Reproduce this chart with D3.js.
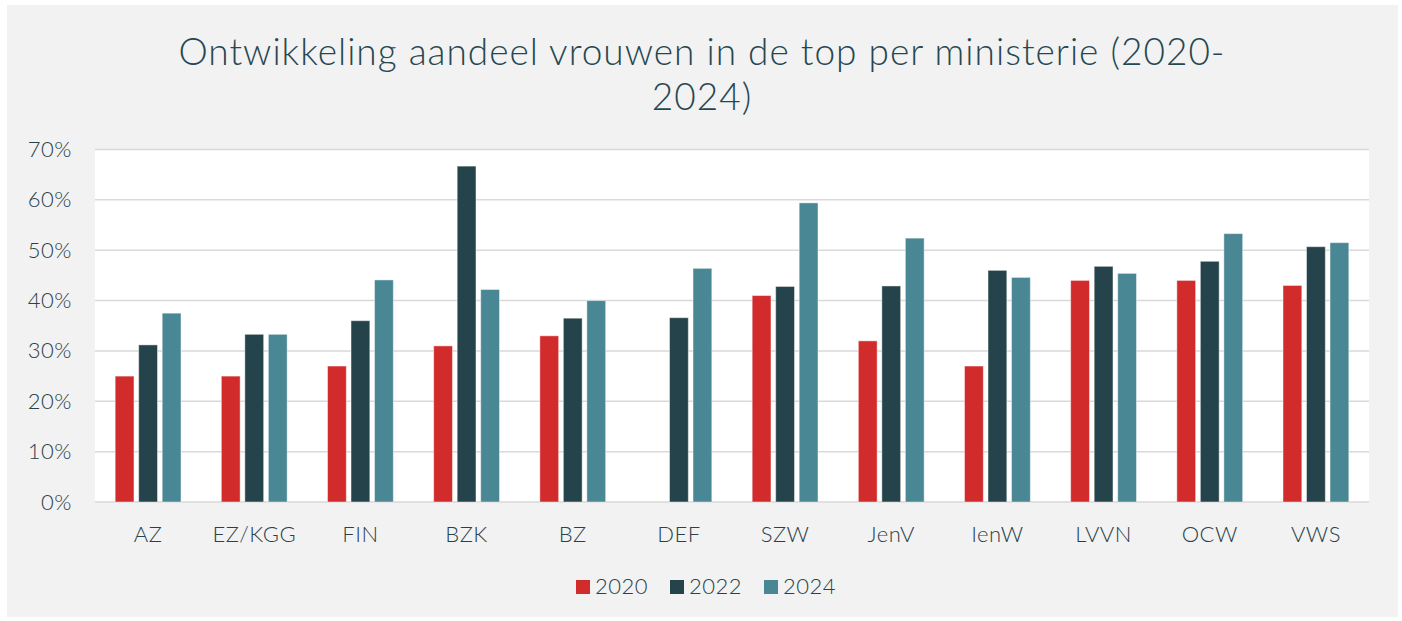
<!DOCTYPE html>
<html>
<head>
<meta charset="utf-8">
<script src="https://cdn.jsdelivr.net/npm/d3@7"></script>
<style>
  body { margin: 0; background: #fff; }
  text { font-family: Lato, "Open Sans", sans-serif; }
</style>
</head>
<body>
<svg id="chart" width="1402" height="621"></svg>
<script>
var categories = ["AZ", "EZ/KGG", "FIN", "BZK", "BZ", "DEF", "SZW", "JenV", "IenW", "LVVN", "OCW", "VWS"];
var years = ["2020", "2022", "2024"];
var values2020 = [0.25, 0.25, 0.27, 0.31, 0.33, null, 0.41, 0.32, 0.27, 0.44, 0.44, 0.43];
var values2022 = [0.312, 0.333, 0.36, 0.667, 0.365, 0.366, 0.428, 0.429, 0.46, 0.468, 0.478, 0.507];
var values2024 = [0.375, 0.333, 0.441, 0.422, 0.40, 0.464, 0.594, 0.524, 0.446, 0.454, 0.533, 0.515];
var yTicks = [0, 0.1, 0.2, 0.3, 0.4, 0.5, 0.6, 0.7];
var colors = ["#d22b2b", "#25434a", "#4a8794"];

var series = [values2020, values2022, values2024];
var data = categories.map(function(c, i) {
  return { cat: c, vals: years.map(function(y, j) { return { year: y, v: series[j][i] }; }) };
});

var svg = d3.select("#chart"),
    margin = {top: 149.5, right: 33, bottom: 119, left: 95},
    width = +svg.attr("width") - margin.left - margin.right,
    height = +svg.attr("height") - margin.top - margin.bottom;

// chart background
svg.append("rect")
    .attr("x", 7).attr("y", 5)
    .attr("width", 1391).attr("height", 612)
    .attr("fill", "#f2f2f2");

// title
var title = svg.append("text")
    .attr("text-anchor", "middle")
    .attr("fill", "#274750")
    .style("font-size", "37px")
    .style("font-weight", 300)
    .style("letter-spacing", "1px");
title.append("tspan").attr("x", 702).attr("y", 65).text("Ontwikkeling aandeel vrouwen in de top per ministerie (2020-");
title.append("tspan").attr("x", 702).attr("y", 110).text("2024)");

var g = svg.append("g").attr("transform", "translate(" + margin.left + "," + margin.top + ")");

var x0 = d3.scaleBand()
    .domain(categories)
    .range([0, width])
    .paddingInner(0.38)
    .paddingOuter(0.19);

var x1 = d3.scaleBand()
    .domain(years)
    .range([0, x0.bandwidth()])
    .paddingInner(0.2);

var y = d3.scaleLinear()
    .domain([0, 0.7])
    .range([height, 0]);

g.append("rect")
    .attr("width", width)
    .attr("height", height)
    .attr("fill", "#fff");

g.append("g")
    .selectAll("line")
    .data(yTicks)
    .enter().append("line")
      .attr("x1", 0)
      .attr("x2", width)
      .attr("y1", function(d) { return y(d); })
      .attr("y2", function(d) { return y(d); })
      .attr("stroke", "#d9d9d9")
      .attr("stroke-width", 1.5);

g.append("g")
    .selectAll("g")
    .data(data)
    .enter().append("g")
      .attr("transform", function(d) { return "translate(" + x0(d.cat) + ",0)"; })
    .selectAll("rect")
    .data(function(d) { return d.vals.filter(function(e) { return e.v != null; }); })
    .enter().append("rect")
      .attr("x", function(d) { return x1(d.year); })
      .attr("y", function(d) { return y(d.v); })
      .attr("width", x1.bandwidth())
      .attr("height", function(d) { return height - y(d.v); })
      .attr("fill", function(d) { return colors[years.indexOf(d.year)]; })
      .attr("stroke", "#fff")
      .attr("stroke-opacity", 0.45)
      .attr("stroke-width", 1);

var yAxis = g.append("g")
    .call(d3.axisLeft(y).tickValues(yTicks).tickFormat(d3.format(".0%")).tickSize(0).tickPadding(23));
yAxis.select(".domain").remove();
yAxis.selectAll("text")
    .attr("fill", "#2a4148")
    .style("font-size", "22px")
    .style("font-weight", 300)
    .style("letter-spacing", "0.5px");

var xAxis = g.append("g")
    .attr("transform", "translate(0," + height + ")")
    .call(d3.axisBottom(x0).tickSize(0).tickPadding(24));
xAxis.select(".domain").remove();
xAxis.selectAll("text")
    .attr("fill", "#2a4148")
    .style("font-size", "22px")
    .style("font-weight", 300)
    .style("letter-spacing", "0.5px");

// legend
var legendX = [576, 670, 764];
var legend = svg.append("g")
    .selectAll("g")
    .data(years)
    .enter().append("g")
      .attr("transform", function(d, i) { return "translate(" + legendX[i] + ",580)"; });
legend.append("rect")
    .attr("width", 14)
    .attr("height", 14)
    .attr("fill", function(d, i) { return colors[i]; });
legend.append("text")
    .attr("x", 19)
    .attr("y", 14)
    .attr("fill", "#2a4148")
    .style("font-size", "22px")
    .style("font-weight", 300)
    .style("letter-spacing", "0.5px")
    .text(function(d) { return d; });
</script>
</body>
</html>
